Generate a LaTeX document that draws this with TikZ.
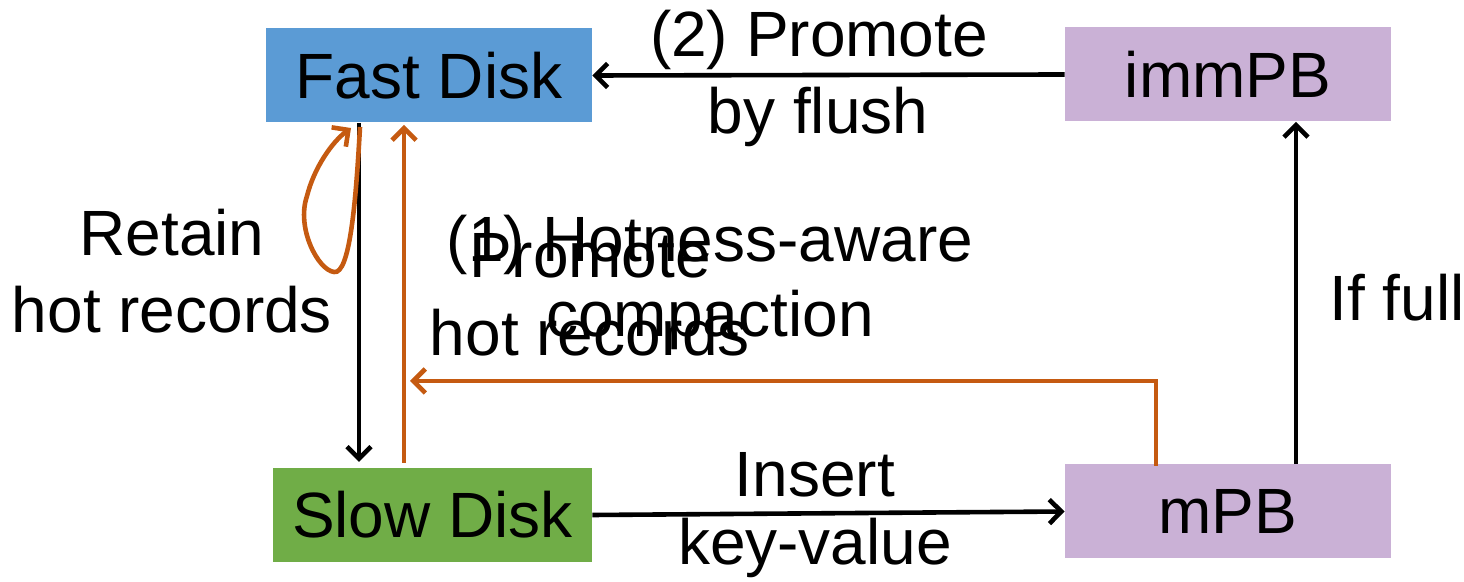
\documentclass[tikz,border=0pt]{standalone}
\usepackage{fontspec}
\setmainfont{Liberation Sans}
\usetikzlibrary{arrows.meta}
\definecolor{fastblue}{HTML}{5B9BD5}
\definecolor{slowgreen}{HTML}{70AD47}
\definecolor{pbpurple}{HTML}{CAB1D6}
\definecolor{hotorange}{HTML}{C55A11}
\begin{document}
\begin{tikzpicture}[x=0.5pt,y=-0.5pt,
  every node/.style={font=\fontsize{32}{38.4}\selectfont},
  box/.style={inner sep=0pt,minimum height=47pt,align=center},
  lbl/.style={align=center,inner sep=0pt},
  flow/.style={line width=2.3pt,-{Straight Barb[length=6pt,width=12pt,line width=2.3pt]}},
  hot/.style={flow,hotorange}]
\useasboundingbox (0,0) rectangle (1464,582);
% storage tiers and buffers
\node[box,fill=fastblue,minimum width=163pt] (fast) at (429,75.5) {Fast Disk};
\node[box,fill=slowgreen,minimum width=159.5pt] (slow) at (432.5,515) {Slow Disk};
\node[box,fill=pbpurple,minimum width=163pt] (imm) at (1228,74.5) {immPB};
\node[box,fill=pbpurple,minimum width=163pt] (mpb) at (1228,511.5) {mPB};
% helper points on the box borders
\coordinate (fdown) at (359,123);
\coordinate (sdown) at (359,462);
\coordinate (sup) at (404,463);
\coordinate (fup) at (404,125);
\coordinate (mup) at (1156,466);
\coordinate (elb) at (410,381);
\coordinate (lpstart) at (360,127);
\coordinate (lpend) at (351,128);
% black flows
\draw[flow] (imm.west) -- (fast.east);
\draw[flow] (fdown) -- (sdown);
\draw[flow] (slow.east) -- (mpb.west);
\draw[flow] (mpb.north -| 1296,0) -- (imm.south -| 1296,0);
% orange flows
\draw[hot] (sup) -- (fup);
\draw[hot] (mup) |- (elb);
\draw[hot] (lpstart) .. controls (356,200) and (350,275) .. (334,272)
  .. controls (318,270) and (296,228) .. (307,196)
  .. controls (314,168) and (332,142) .. (lpend);
% labels
\node[lbl] (l2a) at (819,40) {(2) Promote};
\node[lbl] (l2b) at (818,117) {by flush};
\node[lbl] (lra) at (172,233) {Retain};
\node[lbl] (lrb) at (172,310) {hot records};
\node[lbl] (l1a) at (710,245) {(1) Hotness-aware};
\node[lbl] (l1b) at (710,320) {compaction};
\node[lbl] (lpa) at (590,256) {Promote};
\node[lbl] (lpb) at (590,333) {hot records};
\node[lbl] (lia) at (815,475) {Insert};
\node[lbl] (lib) at (815,548) {key-value};
\node[lbl] (lif) at (1397,298) {If full};
\end{tikzpicture}
\end{document}
